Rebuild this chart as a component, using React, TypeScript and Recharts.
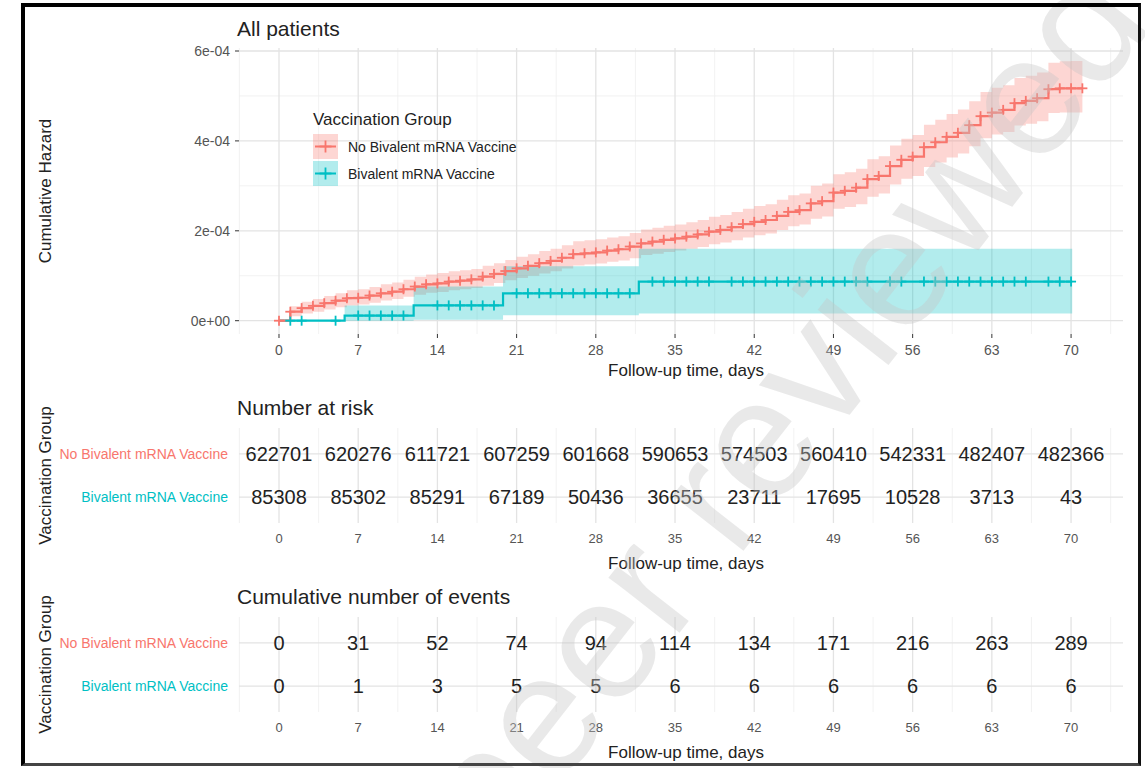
import React from 'react';
import { ComposedChart, Area, Line, Scatter, XAxis, YAxis, CartesianGrid, Legend } from 'recharts';

const FONT = '"Liberation Sans", Arial, Helvetica, sans-serif';
const RED = '#F8766D';
const TEAL = '#00BFC4';
const TEXT = '#222222';
const TICK = '#555555';

// ---------- data ----------
const groupNames = ['No Bivalent mRNA Vaccine', 'Bivalent mRNA Vaccine'];
const groupColors = [RED, TEAL];

// No Bivalent group: cumulative hazard (x 1e-4) and 95% band, by follow-up day
const redDays = [0, 1, 2, 3, 4, 5, 6, 7, 8, 9, 10, 11, 12, 13, 14, 15, 16, 17, 18, 19, 20, 21, 22, 23, 24, 25, 26, 27, 28, 29, 30, 31, 32, 33, 34, 35, 36, 37, 38, 39, 40, 41, 42, 43, 44, 45, 46, 47, 48, 49, 50, 51, 52, 53, 54, 55, 56, 57, 58, 59, 60, 61, 62, 63, 64, 65, 66, 67, 68, 69, 70, 71];
const redHaz = [0, 0.20, 0.28, 0.33, 0.39, 0.445, 0.50, 0.51, 0.56, 0.61, 0.645, 0.70, 0.76, 0.81, 0.83, 0.87, 0.89, 0.92, 0.98, 1.04, 1.105, 1.165, 1.22, 1.28, 1.33, 1.40, 1.48, 1.50, 1.52, 1.56, 1.59, 1.65, 1.72, 1.76, 1.80, 1.83, 1.87, 1.92, 1.98, 2.02, 2.08, 2.15, 2.20, 2.24, 2.33, 2.42, 2.46, 2.61, 2.66, 2.85, 2.89, 2.96, 3.15, 3.22, 3.44, 3.58, 3.65, 3.86, 3.97, 4.09, 4.18, 4.35, 4.55, 4.63, 4.69, 4.84, 4.89, 4.95, 5.15, 5.17, 5.17, 5.17];
const redLo = [0, 0.10, 0.16, 0.20, 0.25, 0.30, 0.34, 0.36, 0.40, 0.45, 0.48, 0.53, 0.58, 0.62, 0.64, 0.68, 0.70, 0.73, 0.78, 0.84, 0.90, 0.95, 1.00, 1.05, 1.10, 1.16, 1.23, 1.25, 1.27, 1.31, 1.34, 1.39, 1.46, 1.49, 1.53, 1.56, 1.60, 1.64, 1.70, 1.74, 1.79, 1.85, 1.90, 1.94, 2.02, 2.10, 2.14, 2.27, 2.32, 2.49, 2.53, 2.59, 2.76, 2.83, 3.03, 3.16, 3.22, 3.42, 3.52, 3.63, 3.72, 3.88, 4.06, 4.14, 4.20, 4.34, 4.38, 4.44, 4.62, 4.63, 4.63, 4.63];
const redHi = [0, 0.32, 0.42, 0.48, 0.55, 0.61, 0.68, 0.70, 0.75, 0.81, 0.85, 0.91, 0.98, 1.03, 1.06, 1.10, 1.12, 1.15, 1.22, 1.28, 1.35, 1.42, 1.48, 1.55, 1.60, 1.68, 1.77, 1.79, 1.81, 1.85, 1.88, 1.95, 2.03, 2.07, 2.11, 2.14, 2.19, 2.24, 2.31, 2.35, 2.42, 2.49, 2.55, 2.59, 2.69, 2.79, 2.83, 3.00, 3.05, 3.26, 3.30, 3.38, 3.59, 3.66, 3.90, 4.05, 4.13, 4.36, 4.47, 4.60, 4.70, 4.88, 5.09, 5.18, 5.24, 5.40, 5.45, 5.52, 5.74, 5.77, 5.78, 5.78];

// Bivalent group: step knots (x 1e-4)
const blueDays = [0, 5.8, 11.9, 19.8, 31.8, 70.1];
const blueHaz = [0, 0.115, 0.34, 0.61, 0.87, 0.87];
const blueLo = [0, 0, 0.02, 0.12, 0.16, 0.16];
const blueHi = [0, 0.34, 0.76, 1.21, 1.60, 1.60];
const blueCensorDays = [1, 2, 5, 7, 8, 9, 10, 11, 14, 15, 16, 17, 18, 19, 21, 22, 23, 24, 25, 26, 27, 28, 29, 30, 31, 33, 34, 35, 36, 37, 38, 40, 41, 42, 43, 44, 45, 46, 47, 48, 49, 50, 51, 52, 54, 55, 57, 58, 59, 60, 61, 62, 63, 64, 65, 66, 68, 69, 70];

// axes
const majorDays = [0, 7, 14, 21, 28, 35, 42, 49, 56, 63, 70];
const minorDays = [-3.5, 3.5, 10.5, 17.5, 24.5, 31.5, 38.5, 45.5, 52.5, 59.5, 66.5, 73.5];
const hazTicks = [0, 0.0002, 0.0004, 0.0006];
const hazMinor = [0.0001, 0.0003, 0.0005];

// risk tables
const tableDays = [0, 7, 14, 21, 28, 35, 42, 49, 56, 63, 70];
const atRiskNo = [622701, 620276, 611721, 607259, 601668, 590653, 574503, 560410, 542331, 482407, 482366];
const atRiskBiv = [85308, 85302, 85291, 67189, 50436, 36655, 23711, 17695, 10528, 3713, 43];
const eventsNo = [0, 31, 52, 74, 94, 114, 134, 171, 216, 263, 289];
const eventsBiv = [0, 1, 3, 5, 5, 6, 6, 6, 6, 6, 6];

// ---------- derived series ----------
const E4 = 1e-4;
const redSeries = redDays.map((d, i) => ({ day: d, haz: redHaz[i] * E4, band: [redLo[i] * E4, redHi[i] * E4] }));
const blueSeries = blueDays.map((d, i) => ({ day: d, haz: blueHaz[i] * E4, band: [blueLo[i] * E4, blueHi[i] * E4] }));
const stepAt = (series: { day: number; haz: number }[], d: number) => {
  let v = 0;
  for (const p of series) if (p.day <= d) v = p.haz;
  return v;
};
const redCensor = redSeries.map((p) => ({ day: p.day, haz: p.haz }));
const blueCensor = blueCensorDays.map((d) => ({ day: d, haz: stepAt(blueSeries, d) }));

const riskRows = tableDays.flatMap((d, i) => [
  { day: d, row: 2, label: atRiskNo[i] },
  { day: d, row: 1, label: atRiskBiv[i] },
]);
const eventRows = tableDays.flatMap((d, i) => [
  { day: d, row: 2, label: eventsNo[i] },
  { day: d, row: 1, label: eventsBiv[i] },
]);

// ---------- layout ----------
const W = 1145;
const X_DOMAIN: [number, number] = [-3.535, 74.59];
const Y_DOMAIN: [number, number] = [-0.296e-4, 6.067e-4];
const PLOT_LEFT = 239;
const RIGHT_M = W - 1123;

const fmtSci = (v: number) => {
  if (v === 0) return '0e+00';
  const [m, e] = v.toExponential(0).split('e');
  const n = parseInt(e, 10);
  return `${m}e${n < 0 ? '-' : '+'}${String(Math.abs(n)).padStart(2, '0')}`;
};

const makePlus = (color: string, half = 5) => (props: any) => {
  const { cx, cy } = props;
  if (cx == null || cy == null || isNaN(cx) || isNaN(cy)) return <g />;
  return (
    <g>
      <line x1={cx - half} x2={cx + half} y1={cy} y2={cy} stroke={color} strokeWidth={1.8} />
      <line x1={cx} x2={cx} y1={cy - half} y2={cy + half} stroke={color} strokeWidth={1.8} />
    </g>
  );
};

const yTitle = (text: string, cy: number) => () => (
  <text x={45} y={cy} transform={`rotate(-90 45 ${cy})`} textAnchor="middle" dominantBaseline="central" fontSize={17} fill={TEXT} fontFamily={FONT}>
    {text}
  </text>
);
const xTitle = (baseline: number) => () => (
  <text x={686} y={baseline} textAnchor="middle" fontSize={17} fill={TEXT} fontFamily={FONT}>
    Follow-up time, days
  </text>
);

const LegendContent = () => (
  <svg width={240} height={90} style={{ display: 'block', overflow: 'visible', fontFamily: FONT }}>
    <text x={0} y={20} fontSize={17} fill={TEXT}>Vaccination Group</text>
    {groupNames.map((name, i) => {
      const top = 29 + i * 27;
      const c = groupColors[i];
      return (
        <g key={name}>
          <rect x={0} y={top} width={25} height={25} fill={c} fillOpacity={0.3} />
          <line x1={2} x2={23} y1={top + 12.5} y2={top + 12.5} stroke={c} strokeWidth={2} />
          <line x1={6.5} x2={18.5} y1={top + 12.5} y2={top + 12.5} stroke={c} strokeWidth={1.8} />
          <line x1={12.5} x2={12.5} y1={top + 6.5} y2={top + 18.5} stroke={c} strokeWidth={1.8} />
          <text x={35} y={top + 17.5} fontSize={14} fill={TEXT}>{name}</text>
        </g>
      );
    })}
  </svg>
);

const RowTick = (props: any) => {
  const { x, y, payload } = props;
  const idx = payload.value === 2 ? 0 : 1;
  return (
    <text x={x} y={y} textAnchor="end" dominantBaseline="central" fontSize={14} fill={groupColors[idx]} fontFamily={FONT}>
      {groupNames[idx]}
    </text>
  );
};

const CellText = (props: any) => {
  const { cx, cy, payload } = props;
  if (cx == null || cy == null) return <g />;
  return (
    <text x={cx} y={cy} textAnchor="middle" dominantBaseline="central" fontSize={20} fill={TEXT} fontFamily={FONT}>
      {payload.label}
    </text>
  );
};

const MAJOR = '#e3e3e3';
const MINOR = '#efefef';

const RiskTable = ({ rows, marginTop }: { rows: any[]; marginTop: number }) => (
  <ComposedChart width={W} height={marginTop + 95 + 50} margin={{ top: marginTop, right: RIGHT_M, bottom: 0, left: 0 }}>
    <CartesianGrid stroke={MINOR} strokeWidth={0.8} horizontal={false} verticalValues={minorDays} />
    <CartesianGrid stroke={MAJOR} strokeWidth={1.3} verticalValues={majorDays} horizontalValues={[1, 2]} />
    <XAxis
      type="number"
      dataKey="day"
      domain={X_DOMAIN}
      ticks={majorDays}
      interval={0}
      allowDataOverflow
      tickLine={false}
      axisLine={false}
      tickSize={0}
      tickMargin={11}
      height={50}
      tick={{ fontSize: 13, fill: TICK }}
      label={xTitle(marginTop + 95 + 46)}
    />
    <YAxis
      type="number"
      dataKey="row"
      domain={[0.4, 2.6]}
      ticks={[1, 2]}
      interval={0}
      allowDataOverflow
      width={PLOT_LEFT}
      tickLine={false}
      axisLine={false}
      tickSize={0}
      tickMargin={11}
      tick={RowTick}
      label={yTitle('Vaccination Group', marginTop + 47.5)}
    />
    <Scatter data={rows} dataKey="row" shape={CellText} isAnimationActive={false} />
  </ComposedChart>
);

export default function App() {
  return (
    <div style={{ position: 'absolute', left: 0, top: 0, width: W, height: 768, background: '#fff', fontFamily: FONT, overflow: 'hidden' }}>
      {/* main hazard panel */}
      <div style={{ position: 'absolute', left: 0, top: 0 }}>
        <ComposedChart width={W} height={390} margin={{ top: 48, right: RIGHT_M, bottom: 0, left: 0 }}>
          <CartesianGrid stroke={MINOR} strokeWidth={0.8} verticalValues={minorDays} horizontalValues={hazMinor} />
          <CartesianGrid stroke={MAJOR} strokeWidth={1.3} verticalValues={majorDays} horizontalValues={hazTicks} />
          <XAxis
            type="number"
            dataKey="day"
            domain={X_DOMAIN}
            ticks={majorDays}
            interval={0}
            allowDataOverflow
            tickSize={4}
            tickMargin={7}
            tickLine={{ stroke: '#333' }}
            axisLine={false}
            height={56}
            tick={{ fontSize: 14, fill: TICK }}
            label={xTitle(376)}
          />
          <YAxis
            type="number"
            domain={Y_DOMAIN}
            ticks={hazTicks}
            interval={0}
            allowDataOverflow
            tickFormatter={fmtSci}
            width={PLOT_LEFT}
            tickSize={4}
            tickMargin={5}
            tickLine={{ stroke: '#333' }}
            axisLine={false}
            tick={{ fontSize: 14, fill: TICK }}
            label={yTitle('Cumulative Hazard', 191)}
          />
          <Area data={redSeries} dataKey="band" type="stepAfter" stroke="none" fill={RED} fillOpacity={0.3} isAnimationActive={false} />
          <Area data={blueSeries} dataKey="band" type="stepAfter" stroke="none" fill={TEAL} fillOpacity={0.3} isAnimationActive={false} />
          <Line data={blueSeries} dataKey="haz" type="stepAfter" stroke={TEAL} strokeWidth={2.2} dot={false} isAnimationActive={false} />
          <Line data={redSeries} dataKey="haz" type="stepAfter" stroke={RED} strokeWidth={2.2} dot={false} isAnimationActive={false} />
          <Scatter data={blueCensor} dataKey="haz" shape={makePlus(TEAL)} isAnimationActive={false} />
          <Scatter data={redCensor} dataKey="haz" shape={makePlus(RED)} isAnimationActive={false} />
          <Legend
            layout="horizontal"
            verticalAlign="middle"
            align="center"
            content={LegendContent}
            wrapperStyle={{ position: 'absolute', left: 313, top: 105, width: 240, height: 90 }}
          />
        </ComposedChart>
      </div>

      {/* Number at risk */}
      <div style={{ position: 'absolute', left: 0, top: 395 }}>
        <RiskTable rows={riskRows} marginTop={33} />
      </div>

      {/* Cumulative number of events */}
      <div style={{ position: 'absolute', left: 0, top: 585 }}>
        <RiskTable rows={eventRows} marginTop={32} />
      </div>

      {/* titles and watermark */}
      <svg width={W} height={768} style={{ position: 'absolute', left: 0, top: 0, pointerEvents: 'none', fontFamily: FONT }}>
        <text x={237} y={28} dominantBaseline="central" fontSize={21} fill={TEXT}>All patients</text>
        <text x={237} y={407} dominantBaseline="central" fontSize={21} fill={TEXT}>Number at risk</text>
        <text x={237} y={596} dominantBaseline="central" fontSize={21} fill={TEXT}>Cumulative number of events</text>
        <text x={1155} y={24} transform="rotate(-52 1155 24)" textAnchor="end" fontSize={170} fill="#c4c4c4" fillOpacity={0.38}>
          Preprint not peer reviewed
        </text>
      </svg>

      {/* screenshot frame */}
      <div
        style={{
          position: 'absolute',
          left: 21,
          top: 3,
          width: 1120,
          height: 763,
          boxSizing: 'border-box',
          borderLeft: '4px solid #000',
          borderTop: '4px solid #000',
          borderRight: '3px solid #111',
          borderBottom: '3px solid #444',
          pointerEvents: 'none',
        }}
      />
    </div>
  );
}
